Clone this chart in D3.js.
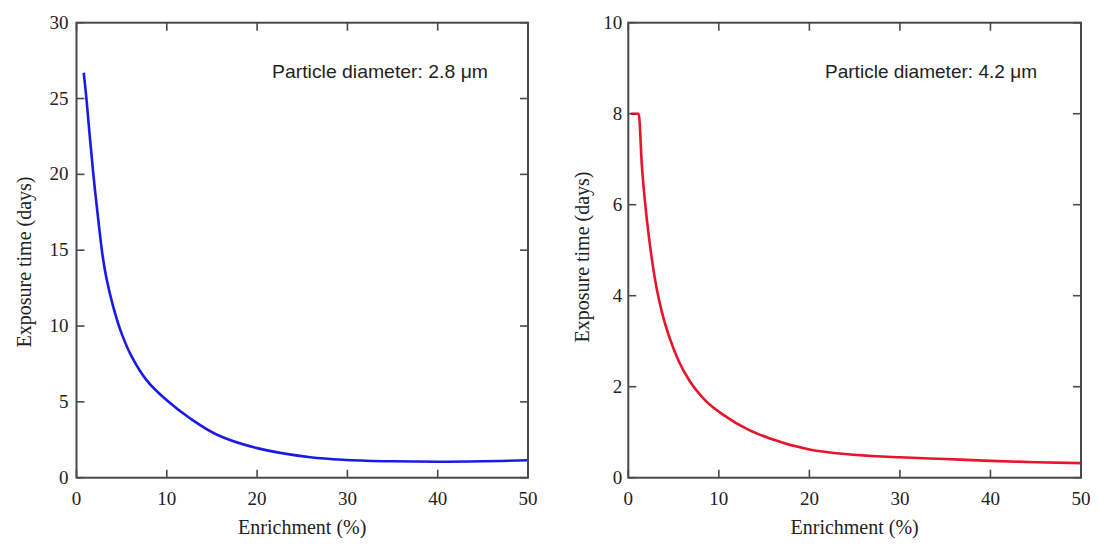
<!DOCTYPE html>
<html>
<head>
<meta charset="utf-8">
<script src="https://cdn.jsdelivr.net/npm/d3@7"></script>
<style>
  html, body { margin: 0; padding: 0; background: #fff; }
  svg { display: block; }
  .tick-label { font-family: "Liberation Serif", "Times New Roman", serif; font-size: 19px; fill: #222; }
  .axis-title { font-family: "Liberation Serif", "Times New Roman", serif; font-size: 20px; fill: #222; }
  .note { font-family: "Liberation Sans", Arial, sans-serif; font-size: 19px; fill: #222; }
</style>
</head>
<body>
<svg id="chart" width="1098" height="546"></svg>
<script>
// Enrichment (%) vs. exposure time (days), 2.8 µm particles
const enrichA = [0.8, 1.1, 1.5, 1.9, 2.3, 2.9, 3.3, 4.1, 5.0, 6.1, 7.8, 10, 12.6, 15.5, 20, 25.9, 30, 35, 40, 45, 50];
const daysA   = [26.7, 25.0, 22.3, 19.8, 17.6, 14.6, 13.2, 11.2, 9.5, 8.0, 6.4, 5.1, 3.9, 2.85, 1.95, 1.35, 1.17, 1.08, 1.05, 1.08, 1.15];

// Enrichment (%) vs. exposure time (days), 4.2 µm particles
const enrichB = [0.3, 1.15, 1.5, 1.9, 2.4, 3.0, 3.7, 4.6, 5.6, 6.8, 8.5, 10.5, 13.3, 15.4, 20, 24.5, 30, 35, 40, 45, 50];
const daysB   = [8.0, 8.0, 6.85, 5.95, 5.1, 4.3, 3.65, 3.05, 2.55, 2.12, 1.7, 1.38, 1.05, 0.88, 0.62, 0.51, 0.45, 0.41, 0.37, 0.34, 0.32];

const xTicks  = [0, 10, 20, 30, 40, 50];
const yTicksA = [0, 5, 10, 15, 20, 25, 30];
const yTicksB = [0, 2, 4, 6, 8, 10];

const xTitle = "Enrichment (%)";
const yTitle = "Exposure time (days)";
const noteA = "Particle diameter: 2.8  \u03bcm";
const noteB = "Particle diameter: 4.2  \u03bcm";

const svg = d3.select("#chart");

function drawPanel(opts) {
  const { left, right, top, bottom, xMax, yMax, yTicks, xs, ys, color, curve,
          note, noteX, noteW, yTitleX, yTitleY, labelGap } = opts;

  const x = d3.scaleLinear().domain([0, xMax]).range([left, right]);
  const y = d3.scaleLinear().domain([0, yMax]).range([bottom, top]);
  const g = svg.append("g");
  const tickLen = 8;
  const frameColor = "#4a4a4a";

  // Data curve
  const pts = xs.map((v, i) => [v, ys[i]]);
  g.append("path")
    .datum(pts)
    .attr("fill", "none")
    .attr("stroke", color)
    .attr("stroke-width", 2.6)
    .attr("stroke-linejoin", "round")
    .attr("d", d3.line().x(d => x(d[0])).y(d => y(d[1])).curve(curve));

  // Inward ticks on all four sides
  const tg = g.append("g").attr("stroke", frameColor).attr("stroke-width", 1.6);
  xTicks.forEach(t => {
    tg.append("line").attr("x1", x(t)).attr("x2", x(t)).attr("y1", bottom).attr("y2", bottom - tickLen);
    tg.append("line").attr("x1", x(t)).attr("x2", x(t)).attr("y1", top).attr("y2", top + tickLen);
  });
  yTicks.forEach(t => {
    tg.append("line").attr("x1", left).attr("x2", left + tickLen).attr("y1", y(t)).attr("y2", y(t));
    tg.append("line").attr("x1", right).attr("x2", right - tickLen).attr("y1", y(t)).attr("y2", y(t));
  });

  // Frame
  g.append("rect")
    .attr("x", left).attr("y", top)
    .attr("width", right - left).attr("height", bottom - top)
    .attr("fill", "none").attr("stroke", frameColor).attr("stroke-width", 2);

  // Tick labels
  g.selectAll(".xl").data(xTicks).enter().append("text")
    .attr("class", "tick-label")
    .attr("x", d => x(d)).attr("y", bottom + 27)
    .attr("text-anchor", "middle")
    .text(d => d);
  g.selectAll(".yl").data(yTicks).enter().append("text")
    .attr("class", "tick-label")
    .attr("x", left - labelGap).attr("y", d => y(d) + 6)
    .attr("text-anchor", "end")
    .text(d => d);

  // Axis titles
  g.append("text")
    .attr("class", "axis-title")
    .attr("x", (left + right) / 2).attr("y", bottom + 56)
    .attr("text-anchor", "middle")
    .text(xTitle);
  g.append("text")
    .attr("class", "axis-title")
    .attr("transform", `translate(${yTitleX},${yTitleY}) rotate(-90)`)
    .attr("text-anchor", "middle")
    .text(yTitle);

  // Annotation
  g.append("text")
    .attr("class", "note")
    .attr("x", noteX).attr("y", 78)
    .attr("textLength", noteW)
    .attr("lengthAdjust", "spacingAndGlyphs")
    .text(note);
}

drawPanel({
  left: 76.5, right: 528, top: 22.7, bottom: 477.7,
  xMax: 50, yMax: 30, yTicks: yTicksA,
  xs: enrichA, ys: daysA, color: "#1a1ae6", curve: d3.curveCatmullRom.alpha(0.5),
  note: noteA, noteX: 272, noteW: 216,
  yTitleX: 31, yTitleY: 262, labelGap: 8
});

drawPanel({
  left: 628.3, right: 1081, top: 22.7, bottom: 477.7,
  xMax: 50, yMax: 10, yTicks: yTicksB,
  xs: enrichB, ys: daysB, color: "#e8142c", curve: d3.curveMonotoneX,
  note: noteB, noteX: 825, noteW: 212,
  yTitleX: 589, yTitleY: 257, labelGap: 6
});
</script>
</body>
</html>
